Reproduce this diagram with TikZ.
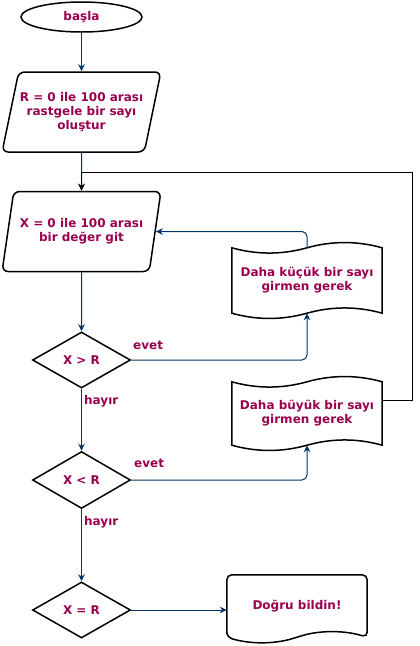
\documentclass[tikz,border=0pt]{standalone}
\usepackage{fontspec}
\setmainfont{DejaVu Sans}
\usetikzlibrary{shapes.geometric,arrows.meta}
\definecolor{txt}{HTML}{99004D}
\definecolor{ln}{HTML}{003366}
\begin{document}
\begin{tikzpicture}[x=1pt,y=-1pt,
 every node/.style={font=\fontsize{12}{14}\selectfont\bfseries, text=txt, align=center},
 shp/.style={draw=black, line width=1.5pt},
 conn/.style={draw=ln, line width=1pt, -{Stealth[length=7pt,width=6.5pt]}},
 loopln/.style={draw=black, line width=1pt, -{Stealth[length=7pt,width=6.5pt]}},
 lbl/.style={anchor=west, inner sep=0pt},
 docbox/.style={inner sep=0pt}]
\useasboundingbox[fill=white] (0,0) rectangle (420,646);
% shapes
\node[shp, ellipse, minimum width=121, minimum height=30, inner sep=0pt] (start) at (81.5,17) {başla};
\node[shp, trapezium, trapezium left angle=67.6, trapezium right angle=112.4, trapezium stretches=true,
      minimum width=159, minimum height=80, rounded corners=6pt, inner sep=0pt] (p1) at (81.5,112)
      {R = 0 ile 100 arası\\rastgele bir sayı\\oluştur};
\node[shp, trapezium, trapezium left angle=67.6, trapezium right angle=112.4, trapezium stretches=true,
      minimum width=159, minimum height=80, rounded corners=6pt, inner sep=0pt] (p2) at (81.5,231.5)
      {X = 0 ile 100 arası\\bir değer git};
\node[shp, diamond, minimum width=98, minimum height=56, inner sep=0pt] (g1) at (81.5,360) {X > R};
\node[shp, diamond, minimum width=98, minimum height=57, inner sep=0pt] (g2) at (81.5,480) {X < R};
\node[shp, diamond, minimum width=98, minimum height=56, inner sep=0pt] (g3) at (81.5,610) {X = R};
% tapes
\node[docbox, minimum width=150, minimum height=65] (d1) at (307,280.5) {Daha küçük bir sayı\\girmen gerek};
\node[docbox, minimum width=150, minimum height=63] (d2) at (307,413.5) {Daha büyük bir sayı\\girmen gerek};
\node[docbox, minimum width=140, minimum height=62] (d3) at (297,606) {Doğru bildin!};
\foreach \d in {d1,d2}{
\draw[shp] (\d.north west) .. controls +(25,7) and +(-25,7) .. (\d.north)
   .. controls +(25,-7) and +(-25,-7) .. (\d.north east) -- (\d.south east)
   .. controls +(-25,-7) and +(25,-7) .. (\d.south)
   .. controls +(-25,7) and +(25,7) .. (\d.south west) -- cycle;
}
\draw[shp, rounded corners=5pt] (d3.south west) -- (d3.north west) -- (d3.north east) -- (d3.south east)
   .. controls +(-23,-7) and +(23,-7) .. (d3.south)
   .. controls +(-23,7) and +(23,7) .. (d3.south west) -- cycle;
% connectors
\draw[conn] (start) -- (p1);
\draw[conn] (p1) -- (p2);
\draw[conn] (p2) -- (g1);
\draw[conn, rounded corners=5pt] (g1.east) -| (d1.south);
\draw[conn, rounded corners=5pt] (d1.north) |- (p2.east);
\draw[conn] (g1) -- (g2);
\draw[conn, rounded corners=5pt] (g2.east) -| (d2.south);
\draw[conn] (g2) -- (g3);
\draw[conn] (g3.east) -- (g3.east -| d3.west);
\coordinate (d2out) at ([yshift=13.5pt]d2.east);
\coordinate (loopc) at (412,172);
\draw[loopln] (d2out) -| (loopc) -| (p2.north);
% labels
\node[lbl] (e1) at (133,345) {evet};
\node[lbl] (e2) at (134,463) {evet};
\node[lbl] (h1) at (84,401) {hayır};
\node[lbl] (h2) at (84,522) {hayır};
\end{tikzpicture}
\end{document}
